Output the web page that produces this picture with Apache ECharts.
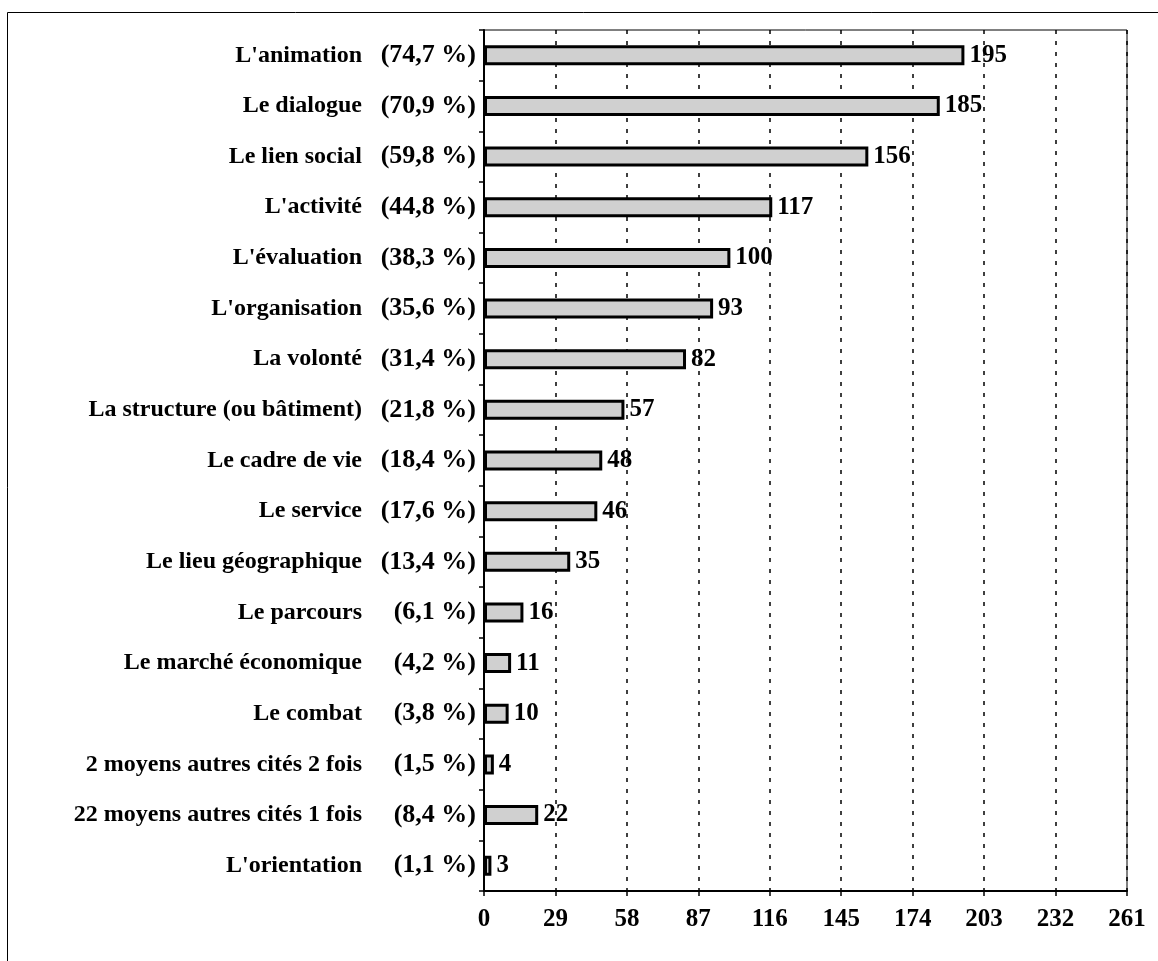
<!DOCTYPE html>
<html lang="fr">
<head>
<meta charset="UTF-8">
<title>Moyens</title>
<script src="https://cdn.jsdelivr.net/npm/echarts@6/dist/echarts.min.js"></script>
<style>
  html, body { margin: 0; padding: 0; background: #fff; }
  #main { width: 1158px; height: 961px; }
</style>
</head>
<body>
<div id="main"></div>
<script type="text/javascript">
// categories, top to bottom
var names = ["L'animation", "Le dialogue", "Le lien social", "L'activité", "L'évaluation",
  "L'organisation", "La volonté", "La structure (ou bâtiment)", "Le cadre de vie", "Le service",
  "Le lieu géographique", "Le parcours", "Le marché économique", "Le combat",
  "2 moyens autres cités 2 fois", "22 moyens autres cités 1 fois", "L'orientation"];
var percents = ["74,7", "70,9", "59,8", "44,8", "38,3", "35,6", "31,4", "21,8", "18,4", "17,6",
  "13,4", "6,1", "4,2", "3,8", "1,5", "8,4", "1,1"];
var counts = [195, 185, 156, 117, 100, 93, 82, 57, 48, 46, 35, 16, 11, 10, 4, 22, 3];
var xTicks = [0, 29, 58, 87, 116, 145, 174, 203, 232, 261];

var font = 'Liberation Serif';
var chart = echarts.init(document.getElementById('main'));

var option = {
  animation: false,
  backgroundColor: '#fff',
  grid: {
    left: 484, right: 31, top: 30, bottom: 70,
    show: true, borderColor: '#000', borderWidth: 1
  },
  xAxis: {
    type: 'value',
    min: xTicks[0],
    max: xTicks[xTicks.length - 1],
    interval: xTicks[1] - xTicks[0],
    axisLine: { show: true, lineStyle: { color: '#000', width: 2 } },
    axisTick: { show: true, length: 5, lineStyle: { color: '#000', width: 1.5 } },
    axisLabel: { color: '#000', fontFamily: font, fontWeight: 'bold', fontSize: 25, margin: 16 },
    splitLine: { show: true, lineStyle: { color: '#000', width: 1.5, type: [4, 7] } }
  },
  yAxis: {
    type: 'category',
    inverse: true,
    data: names,
    axisLine: { show: true, lineStyle: { color: '#000', width: 2 } },
    axisTick: { show: true, length: 5, lineStyle: { color: '#000', width: 1.5 } },
    axisLabel: {
      margin: 8,
      formatter: function (v, i) {
        return '{n|' + names[i] + '}{p|(' + percents[i] + ' %)}';
      },
      rich: {
        n: { color: '#000', fontFamily: font, fontWeight: 'bold', fontSize: 24 },
        p: { color: '#000', fontFamily: font, fontWeight: 'bold', fontSize: 26, width: 114, align: 'right' }
      }
    }
  },
  series: [{
    type: 'bar',
    data: counts,
    barWidth: 20,
    itemStyle: { color: '#d0d0d0', borderColor: '#000', borderWidth: 3 },
    label: {
      show: true, position: 'right', distance: 5,
      color: '#000', fontFamily: font, fontWeight: 'bold', fontSize: 25
    }
  }],
  graphic: [{
    type: 'rect',
    shape: { x: 7.5, y: 12.5, width: 1200, height: 1000 },
    style: { fill: 'none', stroke: '#000', lineWidth: 1 },
    silent: true
  }]
};

chart.setOption(option);
</script>
</body>
</html>
